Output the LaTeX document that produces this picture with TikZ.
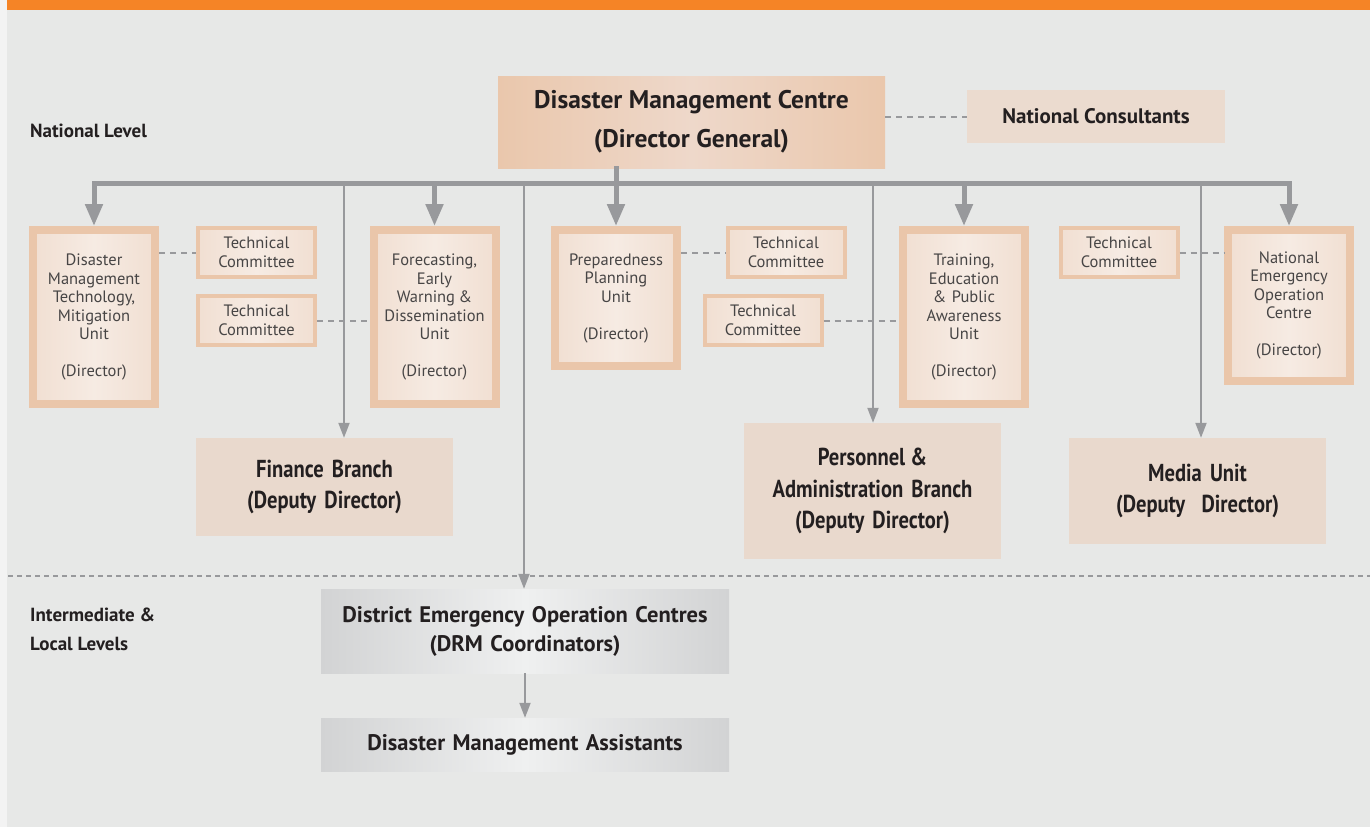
\documentclass[tikz,border=0pt]{standalone}
\usepackage{fontspec}
\setmainfont{PT Sans}
\newfontfamily\condfont[FakeStretch=0.84]{PT Sans}
\usetikzlibrary{arrows.meta}

\definecolor{bgcol}{HTML}{E7E8E7}
\definecolor{edgecol}{HTML}{F3F3F3}
\definecolor{topband}{HTML}{F58426}
\definecolor{peach}{HTML}{EAC6AA}
\definecolor{peachmd}{HTML}{F1DFD2}
\definecolor{peachlt}{HTML}{F6EBE3}
\definecolor{dmcedge}{HTML}{EAC7AC}
\definecolor{dmcmid}{HTML}{EED8CA}
\definecolor{branchcol}{HTML}{E9D9CD}
\definecolor{conscol}{HTML}{EBDBCF}
\definecolor{greyedge}{HTML}{D2D3D4}
\definecolor{greymid}{HTML}{EFF0F0}
\definecolor{linecol}{HTML}{98999C}
\definecolor{txtdark}{HTML}{231F20}
\definecolor{txtlight}{HTML}{474545}

\tikzset{
  unitbox/.style={draw=peach, line width=8pt, left color=peachmd, right color=peachmd,
    middle color=peachlt, minimum width=122pt, text width=114pt, align=center,
    inner sep=0pt, text=txtlight, font=\fontsize{16.5}{18.5}\selectfont},
  tcbox/.style={draw=peach, line width=4pt, left color=peachmd, right color=peachmd,
    middle color=peachlt, minimum width=117pt, minimum height=49pt, text width=110pt,
    align=center, inner sep=0pt, text=txtlight, font=\fontsize{16.5}{18.5}\selectfont},
  branchbox/.style={fill=branchcol, minimum width=257pt, text width=250pt, align=center,
    inner sep=0pt, text=txtdark, font=\condfont\bfseries\fontsize{24.5}{31.5}\selectfont},
  greybox/.style={left color=greyedge, right color=greyedge, middle color=greymid,
    minimum width=408pt, text width=400pt, align=center, inner sep=0pt, text=txtdark,
    font=\bfseries\fontsize{22.5}{29}\selectfont},
  levellabel/.style={anchor=west, align=left, inner sep=0pt, text=txtdark,
    font=\bfseries\fontsize{19}{29}\selectfont},
  busline/.style={draw=linecol, line width=5pt, line cap=rect},
  bigarrow/.style={draw=linecol, line width=5pt, -{Triangle[width=17pt,length=22pt]}},
  thinarrow/.style={draw=linecol, line width=2pt, -{Triangle[width=11pt,length=15pt]}},
  dashline/.style={draw=linecol, line width=2pt, dash pattern=on 6pt off 5pt},
  sepline/.style={draw=linecol, line width=1.5pt, dash pattern=on 5pt off 4pt}
}

\begin{document}
\begin{tikzpicture}[x=1pt,y=-1pt]
\useasboundingbox (0,0) rectangle (1370,827);

% background and top band
\fill[bgcol] (0,0) rectangle (1370,827);
\fill[edgecol] (0,0) rectangle (7,827);
\fill[topband] (7,0) rectangle (1370,10);

% level labels
\node[levellabel] (natlvl) at (30,131) {National Level};
\node[levellabel] (loclvl) at (30,629.5) {Intermediate \&\\Local Levels};

% top of the chart
\node[left color=dmcedge, right color=dmcedge, middle color=dmcmid, minimum width=387pt,
  minimum height=92pt, align=center, inner sep=0pt, text=txtdark,
  font=\bfseries\fontsize{25.5}{39}\selectfont] (dmc) at (691.5,122)
  {Disaster Management Centre\\(Director General)};
\node[fill=conscol, minimum width=258pt, minimum height=53pt, inner sep=0pt, text=txtdark,
  font=\bfseries\fontsize{21}{25}\selectfont] (natcons) at (1096,116.5) {National Consultants};

% units
\node[unitbox, minimum height=174pt] (dmtm) at (94,317)
  {Disaster\\Management\\Technology,\\Mitigation\\Unit\\[18.5pt](Director)};
\node[unitbox, minimum height=174pt] (fcst) at (434.5,317)
  {Forecasting,\\Early\\Warning\kern-2pt\ \&\\Dissemination\\Unit\\[18.5pt](Director)};
\node[unitbox, minimum height=136pt] (prep) at (616,298)
  {Preparedness\\Planning\\Unit\\[18.5pt](Director)};
\node[unitbox, minimum height=174pt] (train) at (964,317)
  {Training,\\Education\\\& Public\\Awareness\\Unit\\[18.5pt](Director)};
\node[unitbox, minimum height=151pt] (neoc) at (1289,305.5)
  {National\\Emergency\\Operation\\Centre\\[18.5pt](Director)};

% technical committees
\node[tcbox] (tc1) at (256.5,252.5) {Technical\\Committee};
\node[tcbox] (tc2) at (256.5,320.5) {Technical\\Committee};
\node[tcbox] (tc3) at (786,252.5) {Technical\\Committee};
\node[tcbox] (tc4) at (763,320.5) {Technical\\Committee};
\node[tcbox] (tc5) at (1119,252.5) {Technical\\Committee};

% branches
\node[branchbox, minimum height=98pt] (fin) at (324.5,487)
  {Finance Branch\\(Deputy Director)};
\node[branchbox, minimum height=136pt] (pers) at (872.5,491)
  {Personnel\kern-3pt\ \&\\Administration Branch\\(Deputy Director)};
\node[branchbox, minimum height=106pt] (media) at (1197.5,491)
  {Media Unit\\(Deputy\ \ Director)};

% intermediate and local levels
\node[greybox, minimum height=84pt] (deoc) at (525,631)
  {District Emergency Operation Centres\\(DRM Coordinators)};
\node[greybox, minimum height=53pt] (dma) at (525,744.5)
  {Disaster Management Assistants};

% dashed links
\draw[dashline] (dmc.east |- natcons.west) -- (natcons.west);
\draw[dashline] (dmtm.east |- tc1.west) -- (tc1.west);
\draw[dashline] (tc2.east) -- (tc2.east -| fcst.west);
\draw[dashline] (prep.east |- tc3.west) -- (tc3.west);
\draw[dashline] (tc4.east) -- (tc4.east -| train.west);
\draw[dashline] (tc5.east) -- (tc5.east -| neoc.west);

% level separator
\coordinate (sepL) at (8,576);
\coordinate (sepR) at (1370,576);
\draw[sepline] (sepL) -- (sepR);

% main bus
\coordinate (bus) at (0,183);
\draw[busline] (dmtm.north |- bus) -- (neoc.north |- bus);
\draw[busline] (dmc.south -| prep.north) -- (prep.north |- bus);
\foreach \u in {dmtm,fcst,prep,train,neoc}
  \draw[bigarrow] (\u.north |- bus) -- (\u.north);

% thin arrows
\coordinate (finx) at (344,183);
\coordinate (persx) at (873,183);
\coordinate (mediax) at (1201,183);
\coordinate (deocx) at (524,183);
\draw[thinarrow] (finx) -- (finx |- fin.north);
\draw[thinarrow] (persx) -- (persx |- pers.north);
\draw[thinarrow] (mediax) -- (mediax |- media.north);
\draw[thinarrow] (deocx) -- (deocx |- deoc.north);
\draw[thinarrow] (deoc.south) -- (dma.north);

\end{tikzpicture}
\end{document}
